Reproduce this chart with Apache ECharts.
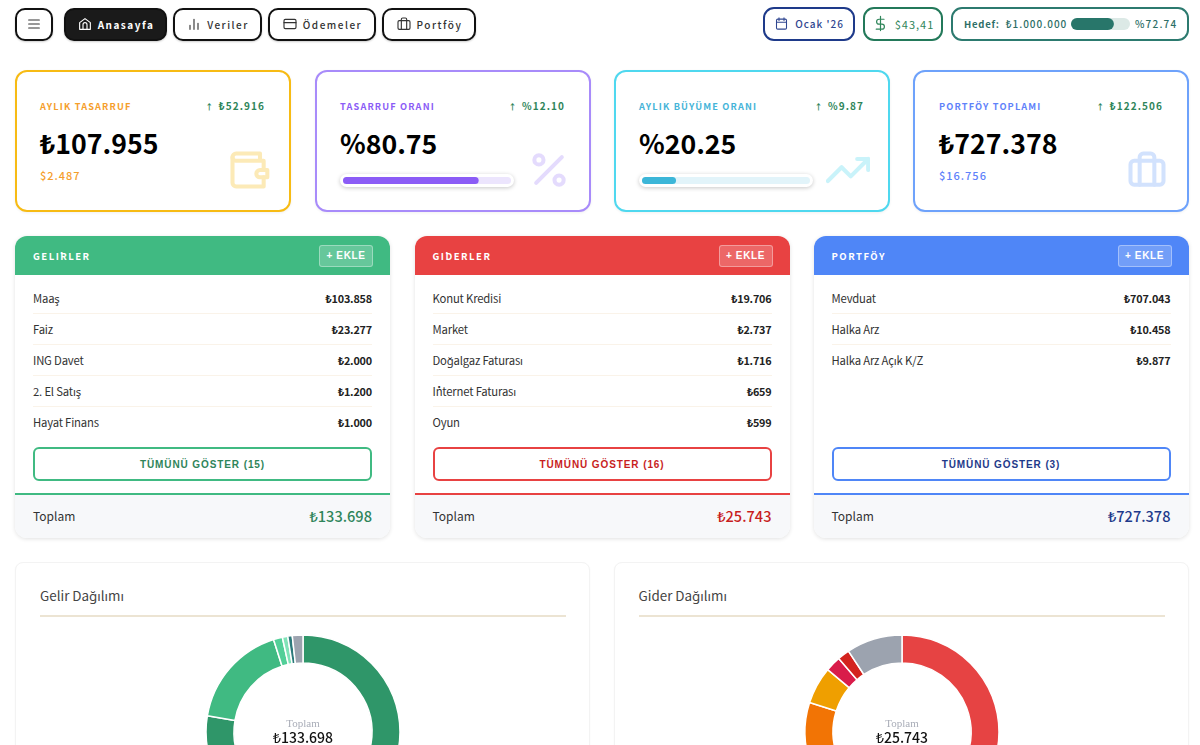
<!DOCTYPE html>
<html lang="tr">
<head>
<meta charset="utf-8">
<title>Anasayfa</title>
<script src="https://cdn.jsdelivr.net/npm/echarts@6/dist/echarts.min.js"></script>
<style>
* { box-sizing: border-box; margin: 0; padding: 0; }
html, body { width: 1200px; height: 745px; overflow: hidden; background: #fff; }
body { position: relative; font-family: "Noto Sans CJK JP", "Noto Sans", sans-serif; color: #000; }
.abs { position: absolute; }
.btn { position: absolute; top: 8px; height: 33px; padding-bottom: 1px; border: 2px solid #111; border-radius: 10px; display: flex; align-items: center; justify-content: center; gap: 5px; font-size: 10px; font-weight: 500; letter-spacing: 1.5px; color: #333; background: #fff; box-shadow: 0 1px 2px rgba(0,0,0,.2); }
.btn.on { background: #1a1a1a; color: #fff; font-weight: 700; }
.btn svg, .pill svg { fill: none; stroke: currentColor; stroke-width: 1.7; stroke-linecap: round; stroke-linejoin: round; }
.pill { position: absolute; top: 7px; height: 34px; padding-bottom: 1px; border: 2px solid; border-radius: 11px; display: flex; align-items: center; font-size: 10px; font-weight: 500; letter-spacing: 1px; background: #fff; }
.card { position: absolute; top: 70px; width: 276px; height: 142px; border: 2px solid; border-radius: 12px; background: #fff; box-shadow: 0 1px 3px rgba(0,0,0,.06); }
.card .lbl { position: absolute; left: 23px; top: 27px; font-size: 9.2px; font-weight: 700; letter-spacing: 1.15px; line-height: 14px; }
.card .dlt { position: absolute; right: 24px; top: 27px; font-size: 10px; font-weight: 700; letter-spacing: 1.1px; line-height: 14px; color: #2f855a; }
.card .dlt i { font-style: normal; font-size: 8px; margin-right: 1px; }
.card .val { position: absolute; left: 23px; top: 51px; font-size: 26.7px; font-weight: 700; line-height: 40px; }
.card .sub { position: absolute; left: 23px; top: 95px; font-size: 11px; font-weight: 500; letter-spacing: 1px; line-height: 16px; }
.card .ico { position: absolute; right: 18px; top: 76px; width: 44px; height: 44px; fill: none; stroke-width: 2.2; stroke-linecap: round; stroke-linejoin: round; opacity: .3; }
.track { position: absolute; left: 23px; top: 102px; width: 174px; height: 13px; padding: 3px; border-radius: 7px; background: #fff; box-shadow: 0 1px 4px rgba(0,0,0,.22); }
.track div { width: 100%; height: 100%; }
.panel { position: absolute; top: 236px; width: 375px; height: 302px; border-radius: 12px; background: #fff; box-shadow: 0 1px 4px rgba(0,0,0,.12); overflow: hidden; }
.head { height: 39px; padding: 0 17px 0 18px; display: flex; align-items: center; justify-content: space-between; color: #fff; font-size: 9.5px; font-weight: 700; letter-spacing: 1.5px; }
.ekle { width: 54px; height: 22px; border: 1px solid rgba(255,255,255,.35); border-radius: 3px; background: rgba(255,255,255,.2); display: flex; align-items: center; justify-content: center; font-family: "Liberation Sans", sans-serif; font-size: 10px; font-weight: 700; letter-spacing: .6px; }
.rows { position: absolute; left: 18px; top: 47px; width: 339px; }
.row { height: 31px; display: flex; align-items: center; justify-content: space-between; border-bottom: 1px solid #faf3e9; font-size: 11.3px; letter-spacing: -.18px; color: #333; }
.row:last-child { border-bottom-color: transparent; }
.row b { font-size: 10.8px; letter-spacing: -.18px; font-weight: 700; color: #222; }
.all { position: absolute; left: 18px; top: 211px; width: 339px; height: 34px; border: 2px solid; border-radius: 6px; display: flex; align-items: center; justify-content: center; font-family: "Liberation Sans", sans-serif; font-size: 10px; font-weight: 700; letter-spacing: .9px; }
.foot { position: absolute; left: 0; top: 257px; width: 100%; height: 45px; padding: 0 18px 3px; border-top: 2px solid; background: #f7f8fa; display: flex; align-items: center; justify-content: space-between; font-size: 12px; color: #333; }
.foot b { font-size: 14.6px; font-weight: 500; }
.dist { position: absolute; top: 562px; width: 575px; height: 400px; border: 1px solid #f3f3f3; border-radius: 8px; background: #fff; box-shadow: 0 1px 2px rgba(0,0,0,.04); }
.dist h3 { position: absolute; left: 24px; top: 22px; font-size: 13.4px; font-weight: 400; line-height: 20px; color: #444; }
.dist hr { position: absolute; left: 24px; top: 52px; width: 526px; border: 0; border-top: 2px solid #ece4d3; }
.donut { position: absolute; left: 24px; top: 57px; width: 526px; height: 300px; }
</style>
</head>
<body>
<script>
// veriler
const navLabels = ["Anasayfa", "Veriler", "Ödemeler", "Portföy"]
const navLefts = [64, 173, 268, 382]
const navWidths = [103, 89, 108, 94]
const navIcons = ["home", "bars", "card", "case"]

const cardLabels = ["AYLIK TASARRUF", "TASARRUF ORANI", "AYLIK BÜYÜME ORANI", "PORTFÖY TOPLAMI"]
const cardValues = ["₺107.955", "%80.75", "%20.25", "₺727.378"]
const cardDeltas = ["₺52.916", "%12.10", "%9.87", "₺122.506"]
const cardSubs = ["$2.487", "", "", "$16.756"]
const cardBorders = ["#f7bb14", "#a88bfa", "#4fd8ef", "#6ea2fb"]
const cardInks = ["#f59e2b", "#8b5cf6", "#46b4d8", "#5f82fa"]
const cardIcons = ["wallet", "percent", "trend", "case"]
const savingRate = 80.75
const growthRate = 20.25
const goalRate = 72.74

const incomeNames = ["Maaş", "Faiz", "ING Davet", "2. El Satış", "Hayat Finans"]
const incomeAmounts = ["₺103.858", "₺23.277", "₺2.000", "₺1.200", "₺1.000"]
const expenseNames = ["Konut Kredisi", "Market", "Doğalgaz Faturası", "İnternet Faturası", "Oyun"]
const expenseAmounts = ["₺19.706", "₺2.737", "₺1.716", "₺659", "₺599"]
const portfolioNames = ["Mevduat", "Halka Arz", "Halka Arz Açık K/Z"]
const portfolioAmounts = ["₺707.043", "₺10.458", "₺9.877"]

const incomeSlices = [103858, 23277, 2000, 1200, 1000, 2363]
const incomeColors = ["#2f9669", "#40ba82", "#52cf98", "#80e3b8", "#2c7a7b", "#9ca3af"]
const expenseSlices = [17835, 2737, 1595, 665, 515, 2396]
const expenseColors = ["#e64343", "#f27405", "#ef9f00", "#d91c4a", "#d3231e", "#9ca3af"]

const icons = {
    menu: '<path d="M4 6h16M4 12h16M4 18h16"/>',
    home: '<path d="M4 10l8-6 8 6v10H4z"/><path d="M9 20v-7a3 3 0 0 1 6 0v7"/>',
    bars: '<path d="M6 20v-6M12 20V5M18 20v-9"/>',
    card: '<rect x="3" y="5" width="18" height="14" rx="2"/><path d="M3 10h18"/>',
    case: '<rect x="3" y="7" width="18" height="13" rx="2"/><path d="M8 20V5a2 2 0 0 1 2-2h4a2 2 0 0 1 2 2v15"/>',
    calendar: '<rect x="4" y="5" width="16" height="16" rx="2"/><path d="M4 10h16M8 3v4M16 3v4"/>',
    dollar: '<path d="M12 2v20M17 6H10a3.5 3.5 0 0 0 0 7h4a3.5 3.5 0 0 1 0 7H6"/>',
    wallet: '<path d="M20 12V7H5a2 2 0 0 1 0-4h13v4"/><path d="M3 5v14a2 2 0 0 0 2 2h15v-5"/><path d="M18 12a2 2 0 0 0 0 4h4v-4z"/>',
    percent: '<path d="M19 5L5 19"/><circle cx="6.5" cy="6.5" r="2.5"/><circle cx="17.5" cy="17.5" r="2.5"/>',
    trend: '<path d="M23 6l-9.5 9.5-5-5L1 18"/><path d="M17 6h6v6"/>',
}
const svg = (name, size, extra) =>
    `<svg viewBox="0 0 24 24" width="${size}" height="${size}" ${extra || ""}>${icons[name]}</svg>`

let html = `<div class="btn" style="left:15px;width:38px">${svg("menu", 16)}</div>`
navLabels.forEach((label, i) => {
    html += `<div class="btn${i === 0 ? " on" : ""}" style="left:${navLefts[i]}px;width:${navWidths[i]}px">${svg(navIcons[i], 16)}${label}</div>`
})
html += `<div class="pill" style="left:763px;width:92px;border-color:#1e3a8a;color:#2f4690;justify-content:center;gap:6px">${svg("calendar", 15)}Ocak '26</div>`
html += `<div class="pill" style="left:863px;width:80px;border-color:#23795a;color:#2f855a;justify-content:center;gap:6px">${svg("dollar", 17)}<span style="font-weight:400;font-size:11px">$43,41</span></div>`
html += `<div class="pill" style="left:951px;width:238px;border-color:#2c7a6f;color:#2c6e66;padding-left:11px">
  <b style="font-size:9.5px;letter-spacing:.8px">Hedef:</b><span style="margin-left:6px">₺1.000.000</span>
  <div id="goalBar" class="abs" style="left:118px;top:9px;width:59px;height:12px"></div>
  <span class="abs" style="left:182px;letter-spacing:1.2px">%72.74</span></div>`

const cardLefts = [15, 315, 614, 913]
cardLabels.forEach((label, i) => {
    html += `<div class="card" style="left:${cardLefts[i]}px;border-color:${cardBorders[i]}">
      <div class="lbl" style="color:${cardInks[i]}${i === 3 ? ";left:24px" : ""}">${label}</div>
      <div class="dlt"><i>↑</i> ${cardDeltas[i]}</div>
      <div class="val"${i === 3 ? ' style="left:24px"' : ""}>${cardValues[i]}</div>
      ${cardSubs[i] ? `<div class="sub" style="color:${cardInks[i]}${i === 3 ? ";left:24px" : ""}">${cardSubs[i]}</div>` : `<div class="track"><div id="bar${i}"></div></div>`}
      ${svg(cardIcons[i], 44, `class="ico" style="stroke:${cardBorders[i]}"`)}
    </div>`
})

const panel = (left, title, color, names, amounts, count, total, totalColor) => {
    const rows = names.map((n, i) => `<div class="row"><span>${n}</span><b>${amounts[i]}</b></div>`).join("")
    return `<div class="panel" style="left:${left}px">
      <div class="head" style="background:${color}"><span>${title}</span><span class="ekle">+ EKLE</span></div>
      <div class="rows">${rows}</div>
      <div class="all" style="border-color:${color};color:${totalColor}">TÜMÜNÜ GÖSTER (${count})</div>
      <div class="foot" style="border-color:${color}"><span>Toplam</span><b style="color:${totalColor}">${total}</b></div>
    </div>`
}
html += panel(15, "GELİRLER", "#40ba82", incomeNames, incomeAmounts, 15, "₺133.698", "#2f855a")
html += panel(414.5, "GİDERLER", "#e84242", expenseNames, expenseAmounts, 16, "₺25.743", "#c81e1e")
html += panel(813.5, "PORTFÖY", "#4f86f7", portfolioNames, portfolioAmounts, 3, "₺727.378", "#1e3a8a")

html += `<div class="dist" style="left:15px"><h3>Gelir Dağılımı</h3><hr><div class="donut" id="incomeChart"></div></div>`
html += `<div class="dist" style="left:613.5px"><h3>Gider Dağılımı</h3><hr><div class="donut" id="expenseChart"></div></div>`
document.body.insertAdjacentHTML("beforeend", html)

function progress(id, value, color, track) {
    const chart = echarts.init(document.getElementById(id))
    chart.setOption({
        animation: false,
        grid: { left: 0, right: 0, top: 0, bottom: 0 },
        xAxis: { type: "value", min: 0, max: 100, show: false },
        yAxis: { type: "category", data: [""], show: false },
        series: [{
            type: "bar",
            data: [value],
            barWidth: "100%",
            showBackground: true,
            backgroundStyle: { color: track, borderRadius: 6 },
            itemStyle: { color, borderRadius: 6 },
        }],
    })
}
progress("bar1", savingRate, "#8b5cf6", "#ece5fd")
progress("bar2", growthRate, "#3cb6d8", "#e2f4fa")
progress("goalBar", goalRate, "#28766a", "#dce9e6")

function donut(id, values, colors, total) {
    const chart = echarts.init(document.getElementById(id))
    chart.setOption({
        animation: false,
        color: colors,
        title: {
            text: "Toplam",
            subtext: total,
            left: "center",
            top: 94,
            itemGap: -1,
            textStyle: { fontFamily: "Liberation Serif", fontSize: 11, fontWeight: 400, color: "#a9adb8", lineHeight: 11 },
            subtextStyle: { fontFamily: "Noto Sans CJK JP", fontSize: 14, fontWeight: 500, color: "#111", lineHeight: 17 },
        },
        series: [{
            type: "pie",
            center: ["50%", 112],
            radius: [69, 97],
            startAngle: 90,
            silent: true,
            label: { show: false },
            labelLine: { show: false },
            itemStyle: { borderColor: "#fff", borderWidth: 1.5 },
            data: values,
        }],
    })
}
donut("incomeChart", incomeSlices, incomeColors, "₺133.698")
donut("expenseChart", expenseSlices, expenseColors, "₺25.743")
</script>
</body>
</html>
